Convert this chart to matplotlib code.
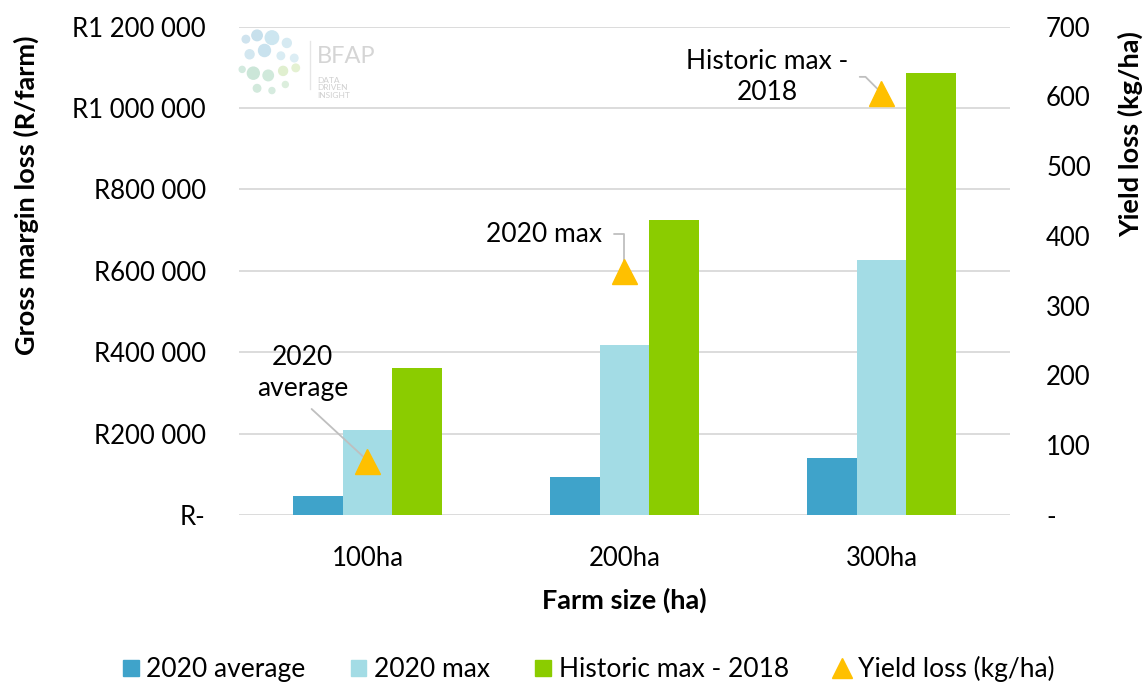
import numpy as np
import matplotlib.pyplot as plt
from matplotlib.ticker import FuncFormatter, MultipleLocator
from matplotlib.lines import Line2D
from matplotlib.patches import Patch, Circle

plt.rcParams['font.family'] = ['Lato', 'DejaVu Sans']

# data
farm_sizes = ["100ha", "200ha", "300ha"]
gm_2020_avg = [47000, 93000, 139000]
gm_2020_max = [209000, 418000, 627000]
gm_hist_max = [361000, 725000, 1087000]
yield_loss = [78, 349, 605]

c_avg = "#3fa3ca"
c_max = "#a3dce5"
c_hist = "#8bcc00"
c_tri = "#ffc000"
c_grid = "#d9d9d9"
fs_tick = 18.5
fs_txt = 19
fs_lab = 19.5

fig = plt.figure(figsize=(11.45, 6.87), dpi=100)
ax = fig.add_axes([0.2087, 0.2504, 0.6734, 0.7109])
ax2 = ax.twinx()

x = np.arange(len(farm_sizes))
w = 0.193
ax.bar(x - w, gm_2020_avg, w, color=c_avg, zorder=3)
ax.bar(x, gm_2020_max, w, color=c_max, zorder=3)
ax.bar(x + w, gm_hist_max, w, color=c_hist, zorder=3)
ax2.plot(x, yield_loss, ls="none", marker="^", ms=18, color=c_tri, zorder=4)

ax.set_xlim(-0.5, 2.5)
ax.set_ylim(0, 1200000)
ax2.set_ylim(0, 700)
ax.yaxis.set_major_locator(MultipleLocator(200000))
ax2.yaxis.set_major_locator(MultipleLocator(100))


def rand_fmt(v, _):
    if v == 0:
        return "R-"
    return "R" + f"{int(v):,}".replace(",", " ")


ax.yaxis.set_major_formatter(FuncFormatter(rand_fmt))
ax2.yaxis.set_major_formatter(FuncFormatter(lambda v, _: "-" if v == 0 else f"{int(v)}"))

ax.set_xticks(x)
ax.set_xticklabels(farm_sizes)
ax.grid(axis="y", color=c_grid, lw=1.3, zorder=0)
ax.set_axisbelow(True)
for a in (ax, ax2):
    for s in a.spines.values():
        s.set_visible(False)
ax.tick_params(axis="y", length=0, pad=24, labelsize=fs_tick)
ax.tick_params(axis="x", length=0, pad=22, labelsize=fs_tick)
ax2.tick_params(axis="y", length=0, pad=26, labelsize=fs_tick)

ax.set_xlabel("Farm size (ha)", fontsize=fs_lab, fontweight="bold", labelpad=12)
ax.set_ylabel("Gross margin loss (R/farm)", fontsize=fs_lab, fontweight="bold")
ax.yaxis.set_label_coords(-0.259, 0.654)
ax2.set_ylabel("Yield loss (kg/ha)", fontsize=fs_lab, fontweight="bold")
ax2.yaxis.set_label_coords(1.14, 0.779)

# data labels with leader lines
lead = dict(arrowstyle="-", color="#bfbfbf", lw=1.3, shrinkB=0)
ax2.annotate("2020\naverage", xy=(x[0], yield_loss[0]), xytext=(-65, 88),
             textcoords="offset pixels", ha="center", va="center", fontsize=fs_txt,
             linespacing=1.3,
             arrowprops=dict(lead, relpos=(0.5, 0), shrinkA=6))
ax2.annotate("2020 max", xy=(x[1], yield_loss[1]), xytext=(-22, 37),
             textcoords="offset pixels", ha="right", va="center", fontsize=fs_txt,
             arrowprops=dict(lead, relpos=(1, 0.5), shrinkA=6,
                             connectionstyle="angle,angleA=0,angleB=90,rad=0"))
ax2.annotate("Historic max -\n2018", xy=(x[2], yield_loss[2]), xytext=(-114, 16),
             textcoords="offset pixels", ha="center", va="center", fontsize=fs_txt,
             linespacing=1.3,
             arrowprops=dict(lead, relpos=(1, 0.5), shrinkA=6,
                             connectionstyle="angle,angleA=0,angleB=135,rad=0"))

# legend
handles = [Patch(color=c_avg), Patch(color=c_max), Patch(color=c_hist),
           Line2D([], [], ls="none", marker="^", ms=14, color=c_tri)]
labels = ["2020 average", "2020 max", "Historic max - 2018", "Yield loss (kg/ha)"]
fig.legend(handles, labels, loc="center", bbox_to_anchor=(0.514, 0.026), ncol=4,
           frameon=False, fontsize=fs_txt, handlelength=0.6, handleheight=0.6,
           handletextpad=0.3, columnspacing=1.7)

# faint BFAP watermark
logo = fig.add_axes([0.205, 0.855, 0.065, 0.11])
logo.set_xlim(0, 1)
logo.set_ylim(0, 1)
logo.axis("off")
dots = [(0.15, 0.8, 0.05, "#cfe3ee"), (0.3, 0.85, 0.07, "#c7e0ec"), (0.5, 0.82, 0.09, "#cde6f0"),
        (0.7, 0.75, 0.06, "#d6eaf2"), (0.2, 0.6, 0.06, "#d3e7f0"), (0.4, 0.65, 0.08, "#c9e2ee"),
        (0.62, 0.58, 0.05, "#d9ecf3"), (0.8, 0.55, 0.05, "#dcedf4"), (0.1, 0.4, 0.04, "#d3eadf"),
        (0.25, 0.35, 0.08, "#cbe6d8"), (0.45, 0.32, 0.07, "#d0e9db"), (0.65, 0.38, 0.06, "#e0efcf"),
        (0.82, 0.42, 0.05, "#e4f1d2"), (0.3, 0.15, 0.05, "#d2e9dc"), (0.5, 0.12, 0.04, "#d6ebdf"),
        (0.68, 0.2, 0.04, "#dceedd")]
for cx, cy, r, col in dots:
    logo.add_patch(Circle((cx, cy), r, color=col, transform=logo.transAxes))
fig.add_artist(Line2D([0.271, 0.271], [0.87, 0.94], color="#e6e6e6", lw=1))
fig.text(0.277, 0.918, "BFAP", fontsize=17, color="#d5d5d5", va="center")
fig.text(0.277, 0.872, "DATA\nDRIVEN\nINSIGHT", fontsize=6, color="#d0d0d0",
         va="center", linespacing=1.1)

fig.savefig("out.png", dpi=100)
